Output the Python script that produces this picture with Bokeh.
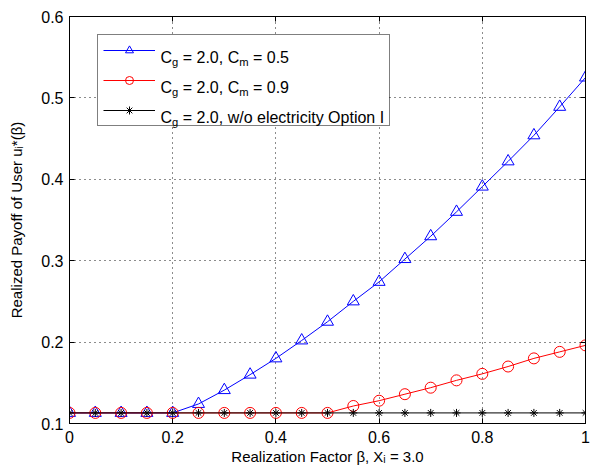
import math
from bokeh.plotting import figure
from bokeh.models import (Range1d, LinearAxis, FixedTicker, Legend, LegendItem,
                          Label, BasicTickFormatter, CustomJSTickFormatter, BoxAnnotation)
from bokeh.core.properties import value
from bokeh.embed import file_html
from bokeh.resources import INLINE

# ---------------- data ----------------
beta = [0.0, 0.05, 0.10, 0.15, 0.20, 0.25, 0.30, 0.35, 0.40, 0.45, 0.50,
        0.55, 0.60, 0.65, 0.70, 0.75, 0.80, 0.85, 0.90, 0.95, 1.0]
payoff_cm05 = [0.113, 0.113, 0.113, 0.113, 0.113, 0.124, 0.141, 0.160, 0.180, 0.202, 0.225,
               0.250, 0.274, 0.302, 0.330, 0.360, 0.391, 0.422, 0.454, 0.489, 0.525]
payoff_cm09 = [0.113, 0.113, 0.113, 0.113, 0.113, 0.113, 0.113, 0.113, 0.113, 0.113, 0.113,
               0.1215, 0.128, 0.136, 0.144, 0.153, 0.161, 0.170, 0.180, 0.188, 0.196]
payoff_noelec = [0.113, 0.113, 0.113, 0.113, 0.113, 0.113, 0.113, 0.113, 0.113, 0.113, 0.113,
                 0.113, 0.113, 0.113, 0.113, 0.113, 0.113, 0.113, 0.113, 0.113, 0.113]
x_ticks = [0, 0.2, 0.4, 0.6, 0.8, 1.0]
y_ticks = [0.1, 0.2, 0.3, 0.4, 0.5, 0.6]
x_label = "Realization Factor β, Xᵢ = 3.0"
y_label = "Realized Payoff of User uᵢ*(β)"

# ---------------- layout ----------------
W, H = 593, 467
BL, BR, BT, BB = 69, 8, 16, 44
FW, FH = W - BL - BR, H - BT - BB
XMIN, XMAX, YMIN, YMAX = 0.0, 1.0, 0.1, 0.6
FONT = "Liberation Sans"
TICK_FS = 16
LAB_FS = 15
LEG_FS = 16

p = figure(width=W, height=H, output_backend="svg", toolbar_location=None,
           x_range=Range1d(XMIN, XMAX), y_range=Range1d(YMIN, YMAX),
           min_border_left=BL, min_border_right=BR, min_border_top=BT,
           min_border_bottom=BB, background_fill_color="white",
           border_fill_color="white")
p.outline_line_color = "black"
p.outline_line_width = 1

xa = p.xaxis[0]
ya = p.yaxis[0]
for ax, ticks in ((xa, x_ticks), (ya, y_ticks)):
    ax.ticker = FixedTicker(ticks=ticks)
    ax.axis_line_color = "black"
    ax.major_tick_line_color = "black"
    ax.major_tick_in = 5
    ax.major_tick_out = 0
    ax.minor_tick_line_color = None
    ax.major_label_text_font = FONT
    ax.major_label_text_font_size = f"{TICK_FS}px"
    ax.major_label_text_color = "black"
    ax.major_label_standoff = 7
    ax.formatter = BasicTickFormatter(use_scientific=False)
    ax.axis_label_text_font = FONT
    ax.axis_label_text_font_size = f"{LAB_FS}px"
    ax.axis_label_text_font_style = "normal"
    ax.axis_label_text_color = "black"
xa.major_label_overrides = {0: "0", 1.0: "1"}
ya.major_label_standoff = 6
xa.axis_label = x_label
ya.axis_label = y_label
xa.axis_label_standoff = 2
ya.axis_label_standoff = 13

for loc, ticks in (("right", y_ticks), ("above", x_ticks)):
    ax = LinearAxis(ticker=FixedTicker(ticks=ticks), major_tick_in=5, major_tick_out=0,
                    minor_tick_line_color=None, axis_line_color="black",
                    major_tick_line_color="black",
                    formatter=CustomJSTickFormatter(code="return ''"),
                    major_label_standoff=0)
    p.add_layout(ax, loc)

p.xgrid.ticker = FixedTicker(ticks=x_ticks)
p.ygrid.ticker = FixedTicker(ticks=y_ticks)
for g in (p.xgrid, p.ygrid):
    g.grid_line_color = "black"
    g.grid_line_alpha = 0.9
    g.grid_line_dash = "1 4"
    g.grid_line_width = 1

# ---------------- series ----------------
l1 = p.line(beta, payoff_cm05, line_color="blue", line_width=1)
m1 = p.scatter(beta, payoff_cm05, marker="triangle", size=12, line_color="blue",
               fill_color=None, line_width=1)
l2 = p.line(beta, payoff_cm09, line_color="red", line_width=1)
m2 = p.scatter(beta, payoff_cm09, marker="circle", size=11, line_color="red",
               fill_color=None, line_width=1)
l3 = p.line(beta, payoff_noelec, line_color="black", line_width=1)
m3 = p.scatter(beta, payoff_noelec, marker="asterisk", size=8, line_color="black",
               line_width=1)


def px2x(px):
    return XMIN + (px - BL) / FW * (XMAX - XMIN)


def py2y(py):
    return YMAX - (py - BT) / FH * (YMAX - YMIN)


# ---------------- legend ----------------
LEG_LEFT, LEG_TOP = 28, 20
PAD, GW, GH, SP, STAND = 5, 52, 20, 10, 5
LEG_W = 291
LEG_H = 2 * PAD + 3 * GH + 2 * SP

# white backing for the legend (legend itself is transparent so the text shows)
p.add_layout(BoxAnnotation(left=px2x(BL + LEG_LEFT), right=px2x(BL + LEG_LEFT + LEG_W),
                           top=py2y(BT + LEG_TOP), bottom=py2y(BT + LEG_TOP + LEG_H),
                           fill_color="white", fill_alpha=1, line_color=None,
                           level="annotation"))

ARIAL = {' ': .278, '=': .584, '.': .278, ',': .278, '/': .278, '(': .333, ')': .333,
         '*': .389, 'β': .574,
         '0': .556, '1': .556, '2': .556, '3': .556, '4': .556, '5': .556,
         '6': .556, '7': .556, '8': .556, '9': .556,
         'C': .722, 'F': .611, 'I': .278, 'O': .778, 'P': .667, 'R': .722, 'U': .722,
         'X': .667,
         'a': .556, 'c': .5, 'd': .556, 'e': .556, 'f': .278, 'g': .556, 'i': .222,
         'l': .222, 'm': .833, 'n': .556, 'o': .556, 'p': .556, 'r': .333, 's': .5,
         't': .278, 'u': .556, 'w': .722, 'y': .5, 'z': .5}


def tw(s, fs):
    return sum(ARIAL.get(c, .556) for c in s) * fs


def rich(segs, fs, px, py):
    """Lay out text segments in data units; px, py are canvas pixels (top-left)."""
    pos = 0.0
    for t, k in segs:
        s = fs if k == 'n' else round(fs * 0.7, 1)
        shift = {'n': 0, 'sub': -0.3 * fs, 'sup': 0.42 * fs}[k]
        lead = len(t) - len(t.lstrip(' '))
        body = t.strip(' ')
        pos += tw(' ' * lead, s)
        p.add_layout(Label(x=px2x(px + pos), y=py2y(py - shift),
                           text=body, text_font=FONT, text_font_size=f"{s}px",
                           text_color="black", text_align="left",
                           text_baseline="alphabetic", level="overlay"))
        pos += tw(t.lstrip(' '), s)


legend_texts = [
    [("C", 'n'), ("g", 'sub'), (" = 2.0, C", 'n'), ("m", 'sub'), (" = 0.5", 'n')],
    [("C", 'n'), ("g", 'sub'), (" = 2.0, C", 'n'), ("m", 'sub'), (" = 0.9", 'n')],
    [("C", 'n'), ("g", 'sub'), (" = 2.0, w/o electricity Option I", 'n')],
]
for i, segs in enumerate(legend_texts):
    row_center = BT + LEG_TOP + PAD + GH / 2 + i * (GH + SP)
    rich(segs, LEG_FS, BL + LEG_LEFT + PAD + GW + STAND + 1, row_center + 5.5)

leg = Legend(items=[LegendItem(label=value(" "), renderers=[l1, m1]),
                    LegendItem(label=value(" "), renderers=[l2, m2]),
                    LegendItem(label=value(" "), renderers=[l3, m3])],
             location=(LEG_LEFT, FH - LEG_TOP - LEG_H),
             padding=PAD, margin=0, spacing=SP, glyph_width=GW, glyph_height=GH,
             label_height=GH, label_standoff=STAND,
             label_width=LEG_W - 2 * PAD - GW - STAND,
             border_line_color="black", border_line_width=1,
             background_fill_color=None, background_fill_alpha=0,
             label_text_font_size="1px")
p.add_layout(leg)

open("out.html", "w").write(file_html(p, INLINE))
